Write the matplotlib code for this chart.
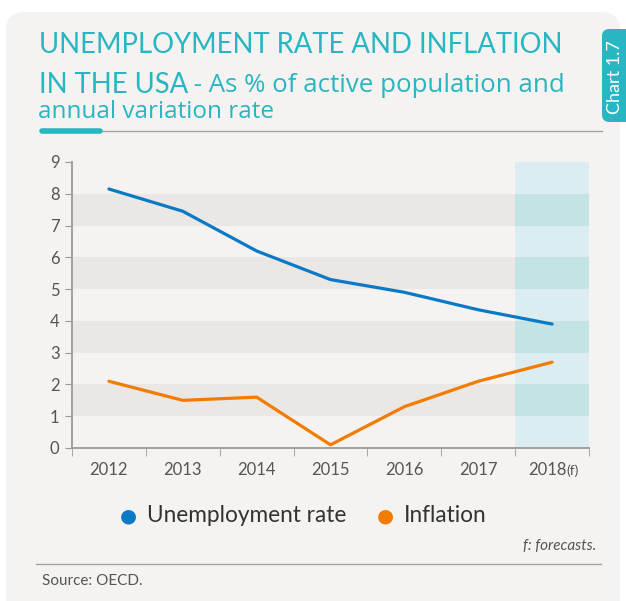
import matplotlib.pyplot as plt
from matplotlib.patches import FancyBboxPatch, Rectangle
from matplotlib.lines import Line2D

plt.rcParams['font.family'] = ['Lato', 'DejaVu Sans']

years = ['2012', '2013', '2014', '2015', '2016', '2017', '2018']
unemployment = [8.15, 7.45, 6.2, 5.3, 4.9, 4.35, 3.9]
inflation = [2.1, 1.5, 1.6, 0.1, 1.3, 2.1, 2.7]

TEAL = '#27b6c2'
BLUE = '#0a7ac6'
ORANGE = '#f27c00'
BG = '#f4f3f1'
BAND = '#ebe7e4'
GREY = '#555555'

fig = plt.figure(figsize=(6.26, 6.01), dpi=100)
W, H = 626, 601

def fx(px):
    return px / W

def fy(py):
    return 1 - py / H

# card background
card = FancyBboxPatch((fx(6), fy(640)), fx(614), fy(12) - fy(640),
                      boxstyle='round,pad=0,rounding_size=0.03',
                      transform=fig.transFigure, facecolor=BG, edgecolor='none', zorder=-2)
fig.patches.append(card)

# side tab
tab = FancyBboxPatch((fx(602), fy(122)), fx(40), fy(29) - fy(122),
                     boxstyle='round,pad=0,rounding_size=0.012',
                     transform=fig.transFigure, facecolor=TEAL, edgecolor='none', zorder=-1)
fig.patches.append(tab)
fig.text(fx(615), fy(77), 'Chart 1.7', rotation=90, color='white', fontsize=13,
         ha='center', va='center')

# title
fig.text(fx(39), fy(45), 'UNEMPLOYMENT RATE AND INFLATION', color=TEAL, fontsize=19.8,
         ha='left', va='center')
t = fig.text(fx(39), fy(85), 'IN THE USA', color=TEAL, fontsize=19.8,
             ha='left', va='center')
fig.canvas.draw()
bb = t.get_window_extent()
fig.text(bb.x1 / W - 0.002, fy(86), ' - As % of active population and', color=TEAL,
         fontsize=18.6, family='Open Sans', ha='left', va='center')
fig.text(fx(38), fy(112), 'annual variation rate', color=TEAL, fontsize=17.5,
         family='Open Sans', ha='left', va='center')
fig.add_artist(Line2D([fx(100), fx(602)], [fy(131), fy(131)], color='#a89f98', lw=1))
fig.add_artist(Line2D([fx(42), fx(100)], [fy(131), fy(131)], color=TEAL, lw=4,
                      solid_capstyle='round'))

# plot area
ax = fig.add_axes([fx(72), fy(448), fx(589) - fx(72), fy(162) - fy(448)], zorder=2)
ax.patch.set_alpha(0)
x = list(range(len(years)))
ax.set_xlim(-0.5, 6.5)
ax.set_ylim(0, 9)

for lo in [1, 3, 5, 7]:
    ax.axhspan(lo, lo + 1, color=BAND, lw=0, zorder=0)

# forecast area
ax.axvspan(5.5, 6.5, color='#dbedf0', lw=0, zorder=0.5)
for lo in [1, 3, 5, 7]:
    ax.add_patch(Rectangle((5.5, lo), 1, 1, color='#c3e3e5', lw=0, zorder=0.6))

ax.plot(x, unemployment, color=BLUE, lw=2.3, zorder=3, solid_capstyle='round')
ax.plot(x, inflation, color=ORANGE, lw=2.3, zorder=3, solid_capstyle='round')

for s in ['top', 'right']:
    ax.spines[s].set_visible(False)
for s in ['left', 'bottom']:
    ax.spines[s].set_color('#9a9a9a')
    ax.spines[s].set_linewidth(1.3)

ax.set_yticks(range(10))
ax.tick_params(axis='y', length=5, color='#9a9a9a', labelcolor=GREY, labelsize=12, pad=4)
ax.set_xticks(x)
ax.set_xticklabels(years[:-1] + [''])
ax.set_xticks([i + 0.5 for i in range(-1, 7)], minor=True)
ax.tick_params(axis='x', which='major', length=0, labelcolor=GREY, labelsize=12, pad=10)
ax.tick_params(axis='x', which='minor', length=6, color='#9a9a9a')
ax.annotate('2018', xy=(6.2, 0), xycoords=('data', 'axes fraction'), xytext=(0, -10),
            textcoords='offset points', color=GREY, fontsize=12, ha='right', va='top')
ax.annotate('(f)', xy=(6.2, 0), xycoords=('data', 'axes fraction'), xytext=(0, -11.5),
            textcoords='offset points', color=GREY, fontsize=10, ha='left', va='top')

# legend
fig.text(fx(128), fy(516), '\u25cf', color=BLUE, fontsize=14, ha='center', va='center',
         family='DejaVu Sans')
fig.text(fx(147), fy(516), 'Unemployment rate', color='#333333', fontsize=16.3,
         ha='left', va='center')
fig.text(fx(385), fy(516), '\u25cf', color=ORANGE, fontsize=14, ha='center', va='center',
         family='DejaVu Sans')
fig.text(fx(404), fy(516), 'Inflation', color='#333333', fontsize=16.3,
         ha='left', va='center')

fig.text(fx(596), fy(546), 'f: forecasts.', color=GREY, fontsize=11, style='italic',
         ha='right', va='center')
fig.add_artist(Line2D([fx(36), fx(601)], [fy(564), fy(564)], color='#a89f98', lw=1))
fig.text(fx(42), fy(581), 'Source: OECD.', color=GREY, fontsize=11, ha='left', va='center')

fig.savefig('out.png', dpi=100, facecolor='white')
